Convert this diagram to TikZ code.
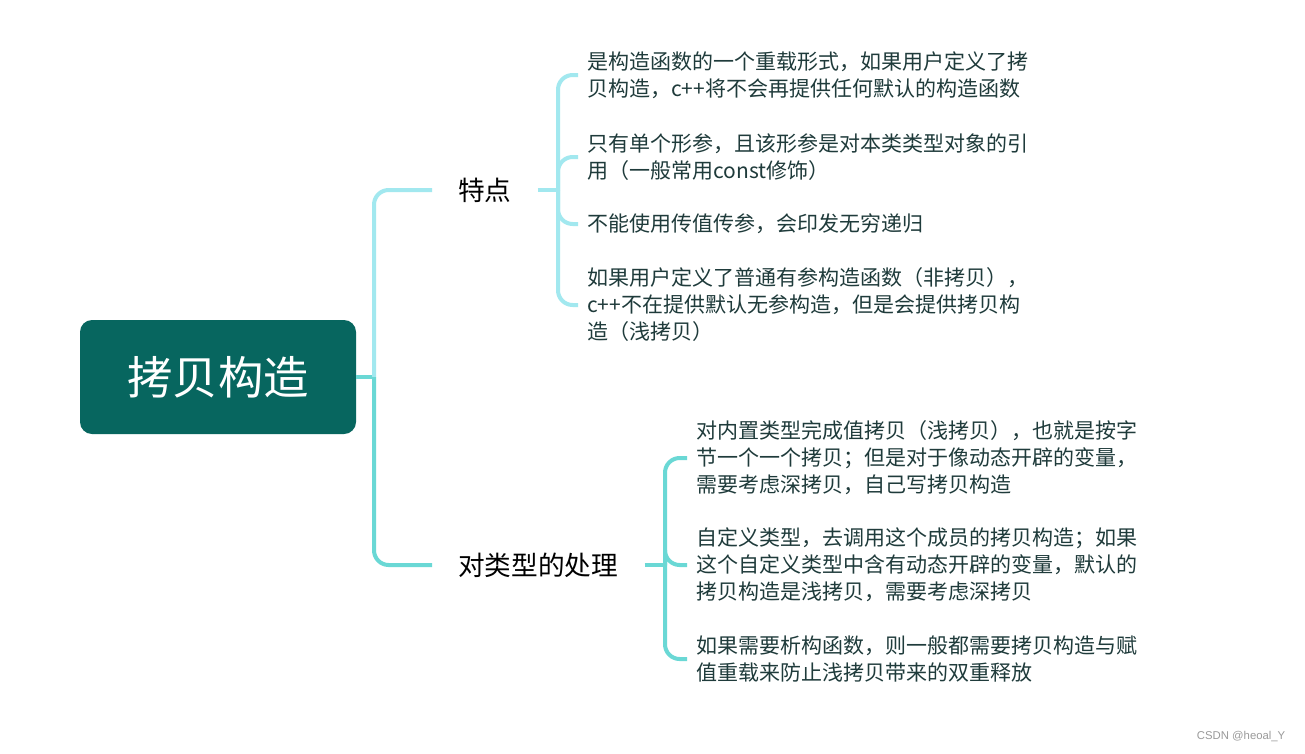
\documentclass[tikz,border=0pt]{standalone}
\usepackage{fontspec}
\setmainfont{Noto Sans CJK SC}
\newfontfamily\markfont{Liberation Sans}
\usetikzlibrary{positioning}
\definecolor{MapRoot}{HTML}{07665F}
\definecolor{MapUpper}{HTML}{A2E8EF}
\definecolor{MapLower}{HTML}{6AD8D5}
\definecolor{MapInk}{HTML}{1F3B3B}
\definecolor{MapMark}{HTML}{9A9A9A}

\begin{document}
\begin{tikzpicture}[x=0.75pt, y=-0.75pt,
  root/.style={fill=MapRoot, rounded corners=9pt, text=white, minimum width=207pt,
               minimum height=85.5pt, font=\fontsize{34pt}{40pt}\selectfont},
  topic/.style={anchor=west, inner xsep=19.5pt, font=\fontsize{20pt}{24pt}\selectfont},
  leaf/.style={anchor=west, inner xsep=6.75pt, align=left, text=MapInk,
               font=\fontsize{15.75pt}{20.25pt}\selectfont},
  link/.style={line width=3pt, rounded corners=11pt}
]
  % Canvas
  \fill[white] (0,0) rectangle (1305,753);
  \useasboundingbox (0,0) rectangle (1305,753);

  % Root and topics
  \node[root] (root) at (218,377) {拷贝构造};
  \node[topic] (tedian) at (432,190) {特点};
  \node[topic] (chuli)  at (432,565) {对类型的处理};

  % Leaves of the first topic
  \node[leaf] (t1) at (578,75)  {是构造函数的一个重载形式，如果用户定义了拷\\贝构造，c++将不会再提供任何默认的构造函数};
  \node[leaf] (t2) at (578,157) {只有单个形参，且该形参是对本类类型对象的引\\用（一般常用const修饰）};
  \node[leaf] (t3) at (578,224) {不能使用传值传参，会印发无穷递归};
  \node[leaf] (t4) at (578,305) {如果用户定义了普通有参构造函数（非拷贝），\\c++不在提供默认无参构造，但是会提供拷贝构\\造（浅拷贝）};

  % Leaves of the second topic
  \node[leaf] (c1) at (687,458) {对内置类型完成值拷贝（浅拷贝），也就是按字\\节一个一个拷贝；但是对于像动态开辟的变量，\\需要考虑深拷贝，自己写拷贝构造};
  \node[leaf] (c2) at (687,565) {自定义类型，去调用这个成员的拷贝构造；如果\\这个自定义类型中含有动态开辟的变量，默认的\\拷贝构造是浅拷贝，需要考虑深拷贝};
  \node[leaf] (c3) at (687,659) {如果需要析构函数，则一般都需要拷贝构造与赋\\值重载来防止浅拷贝带来的双重释放};

  % Junctions
  \coordinate (rj) at (374,377);
  \coordinate (tj) at (558,190);
  \coordinate (cj) at (665,565);

  % Root links
  \draw[link, MapLower] (root.east) -- (rj);
  \draw[link, MapUpper] (rj) |- (tedian.west);
  \draw[link, MapLower] (rj) |- (chuli.west);

  % Topic links
  \draw[link, MapUpper] (tedian.east) -- (tj);
  \foreach \n in {t1,t2,t3,t4}
    \draw[link, MapUpper] (tj) |- (\n.west);
  \draw[link, MapLower] (chuli.east) -- (cj);
  \foreach \n in {c1,c2,c3}
    \draw[link, MapLower] (cj) |- (\n.west);

  % Watermark
  \node[anchor=east, text=MapMark, font=\markfont\fontsize{8.5pt}{10pt}\selectfont] (mark) at (1290,737) {CSDN @heoal\_Y};
\end{tikzpicture}
\end{document}
